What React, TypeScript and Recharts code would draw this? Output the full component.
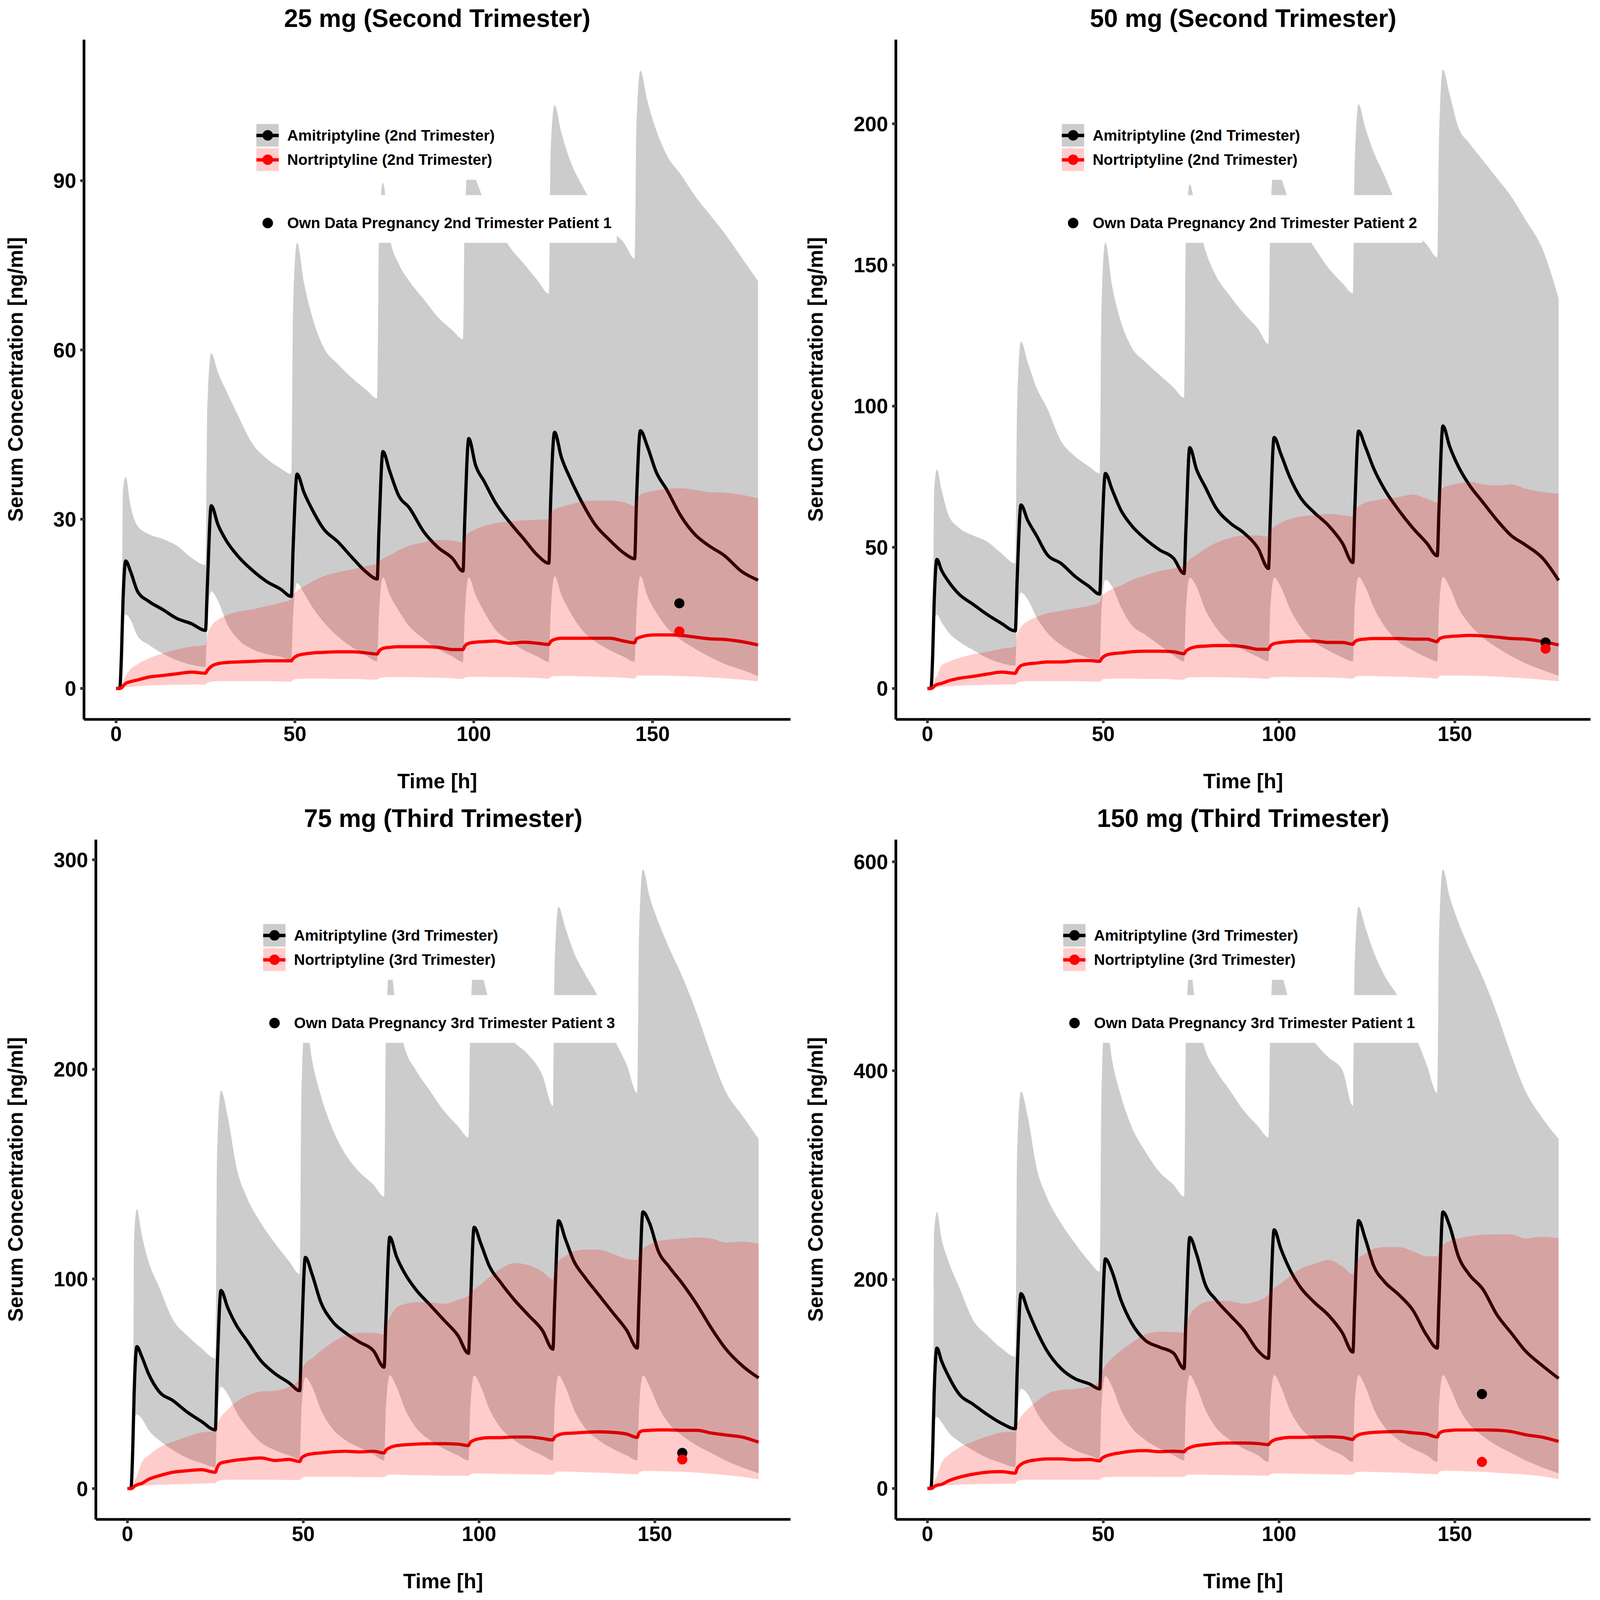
import React from "react";
import { ComposedChart, Area, Line, Scatter, XAxis, YAxis } from "recharts";

// sampling times [h], shared by every series
const T = [0, 1, 1.5, 1.9, 2.7, 4, 6, 9, 13, 17, 21, 25,
  25.5, 26.6, 28.5, 31, 34, 38, 42, 46, 49,
  49.5, 50.6, 52.5, 55, 58, 62, 66, 70, 73,
  73.5, 74.6, 76.5, 79, 82, 86, 90, 94, 97,
  97.5, 98.6, 100.5, 103, 106, 110, 114, 118, 121,
  121.5, 122.6, 124.5, 127, 130, 134, 138, 142, 145,
  145.5, 146.6, 148.5, 151, 154, 158, 162, 166, 170, 175, 179.5];

// 25 mg, second trimester
const amiMed25 = [0, 0, 6, 15, 22.6, 20.8, 17.2, 15.5, 14, 12.4, 11.5, 10.3,
  18, 32.4, 29, 26, 23.5, 21, 19, 17.6, 16.3,
  25, 38, 34.8, 31.5, 28.3, 26, 23.2, 20.6, 19.4,
  28, 42, 38.5, 34.2, 32, 27.8, 25, 23.1, 20.8,
  30, 44.3, 39.6, 36.6, 33, 29.5, 26.5, 23.5, 22.2,
  33, 45.4, 41, 37.2, 33.3, 29, 26.3, 24, 23,
  33, 45.7, 43, 38.4, 35.2, 30.5, 27.2, 25.2, 23.6, 20.7, 19.2];
const amiHigh25 = [0, 0, 0, 35, 37.5, 32.5, 28.8, 27.4, 26.5, 25.3, 23.2, 21.9,
  50, 59.4, 56, 52.5, 48.5, 43.5, 40.8, 39, 38,
  68, 79, 72, 65.5, 60.5, 57.5, 55, 52.9, 51.4,
  80, 89.6, 80, 75.3, 72.2, 69, 65.8, 63.5, 61.9,
  84, 93, 90.3, 86.3, 82.7, 78.3, 75.3, 72.2, 70,
  95, 103.4, 98.5, 93.5, 89.5, 85.2, 81.5, 79, 76.2,
  100, 109.5, 104.3, 99, 94.5, 91, 87.2, 84, 80.8, 76.3, 72.2];
const amiLow25 = [0, 0, 0, 12, 13.1, 12.2, 9.3, 7.8, 6.2, 5, 4.2, 3.8,
  12, 17.2, 15.5, 11.5, 8.8, 7, 6.1, 5.6, 5,
  13, 18.7, 16.9, 14.3, 11.8, 9.2, 7.3, 5.8, 4.8,
  13, 19.7, 16.6, 13.8, 11, 8.8, 7, 5.7, 4.7,
  13, 19.7, 16.6, 13.5, 10.5, 8.4, 6.8, 5.6, 4.7,
  13, 19.9, 16.6, 13.5, 10.6, 8.3, 6.8, 5.6, 4.7,
  13, 19.9, 16.5, 13.5, 10.8, 8.6, 7, 5.6, 4.4, 3.3, 2.2];
const norMed25 = [0, 0, 0.1, 0.4, 0.9, 1.2, 1.5, 2, 2.3, 2.6, 2.9, 2.7,
  3.2, 3.9, 4.4, 4.6, 4.7, 4.8, 4.9, 4.9, 4.9,
  5.3, 5.8, 6.1, 6.3, 6.4, 6.5, 6.5, 6.3, 6.1,
  6.6, 7.1, 7.3, 7.4, 7.4, 7.4, 7.3, 6.9, 6.9,
  7.5, 8, 8.2, 8.3, 8.4, 8, 8.2, 8, 7.8,
  8.3, 8.7, 8.9, 8.9, 8.9, 8.9, 8.9, 8.4, 8.1,
  8.8, 9.1, 9.4, 9.5, 9.5, 9.4, 9.1, 8.8, 8.7, 8.3, 7.7];
const norHigh25 = [0, 0, 0.3, 1.2, 2.2, 3.4, 4.3, 5.3, 6.2, 6.9, 7.4, 7.7,
  9.5, 11, 12.2, 13, 13.6, 14, 14.6, 15.2, 15.8,
  16.5, 17.3, 18.1, 19, 19.9, 20.6, 21.1, 21.7, 22.1,
  22.5, 23, 23.6, 24.5, 25.3, 25.9, 26.3, 26.2, 25.9,
  26.8, 27.6, 28.2, 28.8, 29.3, 29.6, 29.8, 29.9, 30,
  31, 31.7, 32.2, 32.6, 33.1, 33.3, 33.3, 33, 32.4,
  33.5, 34.3, 34.8, 35.1, 35.4, 35.5, 35.2, 34.8, 34.7, 34.3, 33.7];
const norLow25 = [0, 0, 0, 0.1, 0.2, 0.3, 0.4, 0.5, 0.6, 0.65, 0.7, 0.7,
  1, 1.2, 1.3, 1.3, 1.3, 1.3, 1.3, 1.25, 1.2,
  1.5, 1.7, 1.75, 1.75, 1.75, 1.7, 1.7, 1.6, 1.55,
  1.8, 1.95, 2, 2, 2, 1.95, 1.9, 1.8, 1.7,
  1.9, 2.05, 2.05, 2.05, 2, 2, 1.95, 1.85, 1.75,
  2, 2.2, 2.2, 2.2, 2.15, 2.1, 2, 1.9, 1.75,
  2.1, 2.3, 2.3, 2.3, 2.25, 2.2, 2.1, 1.95, 1.8, 1.55, 1.25];

// 50 mg, second trimester
const amiMed50 = [0, 0, 12, 30, 45.7, 41.9, 37.9, 33.4, 29.8, 26.2, 23.1, 20.4,
  38, 65, 59.6, 54.2, 47.5, 44.3, 39.7, 36.1, 33.4,
  50, 76.2, 70.5, 63.2, 57.8, 52.9, 49.1, 46.1, 40.7,
  56, 85.3, 77.7, 71.4, 64.1, 58.7, 55.1, 49.7, 42.5,
  60, 88.9, 83.1, 75, 67.8, 62.3, 57.8, 51.5, 44.6,
  62, 91.2, 85.8, 77.7, 70.5, 63.2, 56.9, 51.5, 47,
  64, 93, 85.8, 78.6, 72.3, 65.9, 59.6, 54.2, 50.9, 46.1, 38.3];
const amiHigh50 = [0, 0, 0, 70, 77.5, 70.5, 61.4, 56.9, 54.2, 52, 47.9, 44.3,
  100, 122.9, 115.6, 106.6, 99.4, 87.6, 82.2, 78.6, 76.2,
  135, 158, 142.7, 130, 121, 115.6, 111.1, 106.6, 103,
  160, 178.5, 168, 155.4, 146.3, 139.1, 132.8, 127.4, 122,
  165, 186, 181, 172, 164, 156.3, 149, 143.6, 140,
  185, 206.9, 198.7, 189.7, 181.6, 170, 162, 157.2, 152.7,
  195, 219.2, 210.5, 198.7, 193.3, 187, 180.7, 174.3, 166.2, 155.4, 138.2];
const amiLow50 = [0, 0, 0, 24, 26.2, 23.5, 19.9, 16.6, 13.6, 10.8, 9, 8.1,
  25, 34, 31.6, 25.3, 19.9, 15.4, 12.6, 10.8, 9.9,
  28, 38.5, 36.1, 28.9, 22.6, 19, 15.4, 11.7, 9.6,
  28, 39.2, 36.1, 28, 21.7, 16.3, 13.6, 11.2, 9.6,
  28, 39.3, 36, 28.5, 22, 16.5, 13.5, 11, 9.6,
  28, 39.5, 36, 28.5, 22, 16.5, 13.5, 11, 9.6,
  28, 39.5, 36, 28.5, 23, 18, 14.5, 11.5, 9, 6.5, 4.5];
const norMed50 = [0, 0, 0.2, 0.8, 1.4, 1.8, 2.7, 3.6, 4.3, 5.1, 5.8, 5.4,
  6.5, 8.1, 8.7, 9, 9.4, 9.4, 9.8, 9.9, 9.6,
  10.5, 11.7, 12.3, 12.6, 13, 13.2, 13.2, 13, 12.3,
  13.2, 14.1, 14.8, 15, 15.2, 15.2, 14.8, 13.9, 13.9,
  15, 15.9, 16.3, 16.6, 16.8, 16.8, 16.3, 16.3, 15.7,
  16.5, 17.2, 17.5, 17.7, 17.7, 17.7, 17.5, 17.5, 16.6,
  17.5, 18.1, 18.4, 18.6, 18.8, 18.6, 18.2, 17.7, 17.5, 16.6, 15.4];
const norHigh50 = [0, 0, 0.5, 2.4, 4.5, 8.1, 9.4, 10.8, 12.1, 13, 14.1, 14.8,
  19, 21.7, 23.8, 25.3, 26.6, 27.5, 28.4, 29.3, 30.7,
  32.5, 33.8, 35.2, 36.5, 38.3, 40.1, 41.6, 42.5, 43.4,
  44.3, 45.7, 47.3, 49.5, 51.5, 53.3, 54.2, 54.2, 53.8,
  56, 57.3, 58.7, 60, 60.9, 61.4, 61.8, 61.4, 60.9,
  63.2, 64.5, 65.9, 66.5, 67.2, 67.8, 68.7, 67.2, 65.9,
  69.6, 71, 71.9, 72.6, 73.2, 72.3, 71.9, 72.3, 70.8, 69.6, 69];
const norLow50 = [0, 0, 0, 0.2, 0.4, 0.6, 0.8, 1, 1.2, 1.3, 1.4, 1.4,
  2, 2.4, 2.6, 2.6, 2.6, 2.6, 2.6, 2.5, 2.4,
  3, 3.4, 3.5, 3.5, 3.5, 3.4, 3.4, 3.2, 3.1,
  3.6, 3.9, 4, 4, 4, 3.9, 3.8, 3.6, 3.4,
  3.8, 4.1, 4.1, 4.1, 4, 4, 3.9, 3.7, 3.5,
  4, 4.4, 4.4, 4.4, 4.3, 4.2, 4, 3.8, 3.5,
  4.2, 4.6, 4.6, 4.6, 4.5, 4.4, 4.2, 3.9, 3.6, 3.1, 2.5];

// 75 mg, third trimester
const amiMed75 = [0, 0, 18, 45, 67.7, 63.3, 54.8, 46.3, 41.9, 36.5, 32.1, 28,
  55, 94.5, 86.4, 77.9, 70.6, 60.9, 54.8, 50.4, 46.7,
  70, 110.3, 102.3, 88.9, 80.4, 74.3, 69.9, 65.7, 57.9,
  80, 120, 110.8, 102.3, 95, 87.7, 80.4, 73, 64.5,
  85, 124.7, 116.9, 105.9, 98.6, 90.1, 82.8, 75.5, 66.5,
  88, 127.8, 119.3, 108.4, 101, 92.5, 84, 75.5, 67,
  90, 132, 126.6, 113.2, 105.9, 97.4, 87.7, 76.7, 67, 58.4, 52.8];
const amiHigh75 = [0, 0, 0, 120, 133.4, 121.7, 108.4, 96.2, 80.4, 73, 67, 62.1,
  160, 189.9, 177.7, 153.4, 138.8, 126.6, 116.9, 108.4, 102.3,
  190, 225, 204.5, 187.5, 172.9, 159.5, 151, 144.9, 139.3,
  215, 250, 228, 209.4, 199.7, 189.9, 180.2, 172.9, 167.5,
  220, 252, 247, 232, 222, 213, 207, 197.2, 182.6,
  250, 277.6, 267.8, 255.7, 245.9, 234, 216, 202.1, 188.7,
  265, 295.4, 282.4, 270.3, 258.1, 243.5, 226.4, 207, 189.9, 177.7, 166.8];
const amiLow75 = [0, 0, 0, 32, 35.3, 33.6, 28, 23.1, 18.3, 14.6, 12.2, 10.2,
  35, 48.7, 45, 36.5, 29.2, 21.9, 18.3, 15.8, 14.1,
  38, 53.1, 48.7, 37.7, 29.2, 23.1, 19.5, 16.3, 13.4,
  38, 54, 48.7, 37.7, 29.2, 23.1, 19, 15.8, 13.4,
  38, 54, 48.7, 37.7, 29.2, 23.1, 19, 15.8, 13.4,
  38, 54, 48.7, 37.7, 29.2, 23.1, 19, 15.8, 13.4,
  38, 54, 48.7, 39, 31, 25, 20.5, 17, 13.5, 10, 7.3];
const norMed75 = [0, 0, 0.3, 1, 1.8, 2.4, 4.4, 6.1, 7.8, 8.5, 9, 7.8,
  10, 12.2, 12.9, 13.6, 14.1, 14.6, 13.4, 13.9, 12.9,
  14.5, 15.8, 16.6, 17, 17.5, 17.8, 17.5, 17.8, 17,
  18.3, 19.5, 20.5, 20.9, 21.2, 21.4, 21.4, 21.2, 20.5,
  22, 23.1, 23.9, 24.3, 24.3, 24.6, 24.6, 23.9, 23.2,
  24.5, 25.6, 26.3, 26.5, 26.8, 27.1, 26.8, 26, 24.4,
  26.6, 27.6, 27.8, 28, 28, 27.8, 27.8, 26.5, 25.6, 24.5, 22.1];
const norHigh75 = [0, 0, 0.5, 3, 6, 12.2, 15.8, 19.5, 22.4, 24.8, 26.8, 27.3,
  30.4, 34.1, 37.7, 41.4, 44.3, 46.3, 46.7, 48.7, 52.3,
  56, 59.7, 62.1, 65.7, 69.4, 73, 74.3, 74.3, 73.5,
  77.9, 81.6, 86.4, 88.1, 88.9, 88.9, 88.1, 90.1, 92,
  93.7, 95, 97.4, 101, 104.7, 107.6, 106.6, 103.5, 99.8,
  104.7, 108.4, 110.8, 113.2, 114, 114, 112, 109.6, 109.1,
  112, 114.4, 116.4, 118.1, 118.8, 119.3, 119.8, 119.3, 117.4, 117.8, 116.9];
const norLow75 = [0, 0, 0, 0.4, 0.8, 1.2, 1.5, 1.8, 2, 2.2, 2.4, 2.6,
  3.4, 4, 4.2, 4.2, 4.2, 4.2, 4.2, 4.1, 4.1,
  5, 5.6, 5.6, 5.6, 5.6, 5.6, 5.5, 5.5, 5.4,
  6, 6.6, 6.6, 6.5, 6.4, 6.3, 6.2, 6.1, 6.1,
  6.7, 7.2, 7.2, 7.1, 7, 6.9, 6.8, 6.7, 6.6,
  7.4, 8.1, 8.1, 8, 7.8, 7.6, 7.3, 7, 6.8,
  7.6, 8.4, 8.4, 8.3, 8.2, 8, 7.6, 7.1, 6.5, 5.6, 4.4];

// 150 mg, third trimester
const amiMed150 = [0, 0, 36, 90, 134.4, 122.1, 107.5, 90.4, 80.6, 70.8, 62.5, 57.2,
  110, 186.6, 171, 151.5, 131.9, 114.8, 105, 100.2, 95.3,
  140, 219.9, 207.6, 180.8, 158.8, 141.7, 135.3, 129.5, 114.8,
  160, 240.4, 224.8, 195.4, 180.8, 166.1, 151.5, 131.9, 124.6,
  170, 247.7, 229.6, 210.1, 193, 178.3, 166.1, 149, 130.5,
  175, 256.5, 239.4, 212.5, 197.9, 185.7, 171, 146.6, 134.4,
  180, 264.8, 251.6, 222.3, 205.2, 190.6, 166.1, 149, 131.9, 117.3, 105.4];
const amiHigh150 = [0, 0, 0, 245, 264.8, 239.4, 217.4, 193, 161.2, 146.6, 134.4, 126.1,
  320, 380.1, 356.7, 307.8, 278.5, 254.1, 234.5, 217.4, 207.6,
  380, 455, 410.4, 376.2, 346.9, 322.5, 302.9, 290.7, 279.5,
  430, 500, 455, 420.2, 400.6, 381.1, 361.6, 346.9, 336.2,
  440, 505, 495, 465, 445, 427.5, 412.9, 400.6, 366.4,
  500, 557, 537.5, 513, 491, 470, 440, 405.5, 378.7,
  530, 592.7, 566.8, 542.3, 517.9, 488.6, 454.4, 415.3, 381.1, 354.2, 334.7];
const amiLow150 = [0, 0, 0, 64, 68.4, 63.5, 53.7, 45, 36.6, 29.3, 24.4, 20.5,
  70, 95.3, 90.4, 73.3, 58.6, 45, 36.6, 31.8, 28.3,
  80, 107.5, 97.7, 75.7, 58.6, 46.4, 38.1, 31.8, 26.9,
  80, 108.5, 97.7, 75.7, 58.6, 46.4, 38.1, 31.8, 25.4,
  80, 108.5, 97.7, 75.7, 58.6, 46.4, 38.1, 31.8, 25.4,
  80, 108.5, 97.7, 75.7, 58.6, 46.4, 38.1, 31.8, 25.4,
  80, 108.5, 97.7, 78, 62, 50, 41, 34, 27, 20, 14.6];
const norMed150 = [0, 0, 0.5, 1.8, 3, 3.9, 7.3, 10.7, 13.7, 15.6, 16.1, 14.7,
  19, 23, 25.9, 27.4, 28.3, 28.3, 27.4, 27.8, 26.4,
  28.5, 30.8, 32.7, 34.2, 35.7, 36.2, 35.2, 35.7, 35.2,
  37, 39.1, 41, 42, 43, 43.5, 43.5, 43, 42,
  44, 46.4, 47.9, 48.9, 48.9, 49.3, 49.5, 48.9, 47,
  49, 51.3, 52.8, 53.7, 54.2, 54.6, 53.3, 52, 49.3,
  52.5, 54.7, 55.5, 56, 56, 56, 55.8, 54.5, 51.5, 49, 45];
const norHigh150 = [0, 0, 1, 6, 12, 24.4, 31.8, 39.1, 45, 49.8, 53.7, 54.7,
  61.1, 68.4, 75.7, 83.1, 90.4, 94.3, 95.3, 97.7, 102.6,
  109.9, 117.3, 124.6, 131.9, 139.2, 147.6, 150, 150, 149,
  156.3, 166.1, 173.5, 178.3, 179.8, 179.3, 176.9, 179.8, 185.7,
  188.1, 191.5, 196.4, 202.8, 210.1, 215, 218.9, 212.5, 205.2,
  212.5, 219.9, 224.8, 229.6, 231.1, 231.1, 227.2, 222.3, 222.3,
  227.2, 233.1, 237, 239.4, 241.4, 242.8, 243.3, 243.3, 239.4, 240.9, 239.4];
const norLow150 = [0, 0, 0, 0.8, 1.6, 2.4, 3, 3.6, 4, 4.3, 4.5, 4.7,
  6.8, 8, 8.4, 8.4, 8.4, 8.4, 8.4, 8.3, 8.3,
  10, 10.9, 11.1, 11.1, 11.1, 11.1, 11, 11, 11,
  12.4, 13.3, 13.3, 13.2, 13, 12.8, 12.6, 12.4, 12.3,
  13.6, 14.4, 14.4, 14.2, 14, 13.8, 13.6, 13.4, 13.3,
  15, 16, 16, 15.8, 15.5, 15.1, 14.6, 14.1, 13.6,
  15.8, 16.9, 16.9, 16.7, 16.4, 15.9, 15, 14.2, 13.3, 11.6, 8.8];

// measured patient samples: [time, amitriptyline, nortriptyline]
const obs25 = [157.5, 15.1, 10.1];
const obs50 = [175.8, 16.3, 14.1];
const obs75 = [157.8, 17.0, 13.9];
const obs150 = [157.7, 90.4, 25.4];

const X_TICKS = [0, 50, 100, 150];
const yTicks25 = [0, 30, 60, 90];
const yTicks50 = [0, 50, 100, 150, 200];
const yTicks75 = [0, 100, 200, 300];
const yTicks150 = [0, 200, 400, 600];

const PANEL = 2362;
const PLOT_TOP = 117;
const PLOT_RIGHT = 2334;
const PLOT_BOTTOM = 2124;
// the screenshot only covers 4096 css px of the 4724 px window
const FIT = 4096 / 4724;
const FONT = '"Liberation Sans", Arial, Helvetica, sans-serif';

const panels = [
  {
    title: "25 mg (Second Trimester)", amiMed: amiMed25, amiLow: amiLow25, amiHigh: amiHigh25,
    norMed: norMed25, norLow: norLow25, norHigh: norHigh25, obs: obs25,
    yDomain: [-5.48, 115.0], yTicks: yTicks25, axisWidth: 248, keyLeft: 757,
    ami: "Amitriptyline (2nd Trimester)", nor: "Nortriptyline (2nd Trimester)",
    own: "Own Data Pregnancy 2nd Trimester Patient 1",
  },
  {
    title: "50 mg (Second Trimester)", amiMed: amiMed50, amiLow: amiLow50, amiHigh: amiHigh50,
    norMed: norMed50, norLow: norLow50, norHigh: norHigh50, obs: obs50,
    yDomain: [-10.94, 229.8], yTicks: yTicks50, axisWidth: 283, keyLeft: 773,
    ami: "Amitriptyline (2nd Trimester)", nor: "Nortriptyline (2nd Trimester)",
    own: "Own Data Pregnancy 2nd Trimester Patient 2",
  },
  {
    title: "75 mg (Third Trimester)", amiMed: amiMed75, amiLow: amiLow75, amiHigh: amiHigh75,
    norMed: norMed75, norLow: norLow75, norHigh: norHigh75, obs: obs75,
    yDomain: [-14.7, 309.6], yTicks: yTicks75, axisWidth: 283, keyLeft: 777,
    ami: "Amitriptyline (3rd Trimester)", nor: "Nortriptyline (3rd Trimester)",
    own: "Own Data Pregnancy 3rd Trimester Patient 3",
  },
  {
    title: "150 mg (Third Trimester)", amiMed: amiMed150, amiLow: amiLow150, amiHigh: amiHigh150,
    norMed: norMed150, norLow: norLow150, norHigh: norHigh150, obs: obs150,
    yDomain: [-29.6, 621.2], yTicks: yTicks150, axisWidth: 283, keyLeft: 777,
    ami: "Amitriptyline (3rd Trimester)", nor: "Nortriptyline (3rd Trimester)",
    own: "Own Data Pregnancy 3rd Trimester Patient 1",
  },
];

const tickStyle = { fill: "#000", fontSize: 61, fontWeight: "bold" };
const axisTitleStyle = { fill: "#000", fontSize: 61, fontWeight: "bold", textAnchor: "middle" } as any;
const axisLine = { stroke: "#000", strokeWidth: 8 };
const tickLine = { stroke: "#333333", strokeWidth: 8 };

function Key({ fill, color }: { fill: string; color: string }) {
  return (
    <div style={{ position: "relative", width: 66, height: 67, background: fill, flex: "none" }}>
      <div style={{ position: "absolute", left: 0, right: 0, top: 29, height: 9.5, background: color }} />
      <div style={{ position: "absolute", left: 18, top: 18, width: 31, height: 31, borderRadius: "50%", background: color }} />
    </div>
  );
}

const legendText = { marginLeft: 25, fontSize: 45, fontWeight: "bold", lineHeight: 1, whiteSpace: "nowrap" } as any;

function Panel({ p }: { p: (typeof panels)[number] }) {
  const data = T.map((t, i) => ({
    t,
    amiMed: p.amiMed[i],
    amiBand: [p.amiLow[i], p.amiHigh[i]],
    norMed: p.norMed[i],
    norBand: [p.norLow[i], p.norHigh[i]],
  }));
  const amiPoint = [{ t: p.obs[0], v: p.obs[1] }];
  const norPoint = [{ t: p.obs[0], v: p.obs[2] }];
  const dot = (color: string) => (s: any) => <circle cx={s.cx} cy={s.cy} r={15} fill={color} />;

  return (
    <div style={{ position: "relative", width: PANEL, height: PANEL }}>
      <ComposedChart width={PANEL} height={PANEL} data={data}
        margin={{ top: PLOT_TOP, right: PANEL - PLOT_RIGHT, bottom: 0, left: 0 }}>
        <XAxis dataKey="t" type="number" domain={[-8.98, 188.58]} ticks={X_TICKS} allowDataOverflow
          height={PANEL - PLOT_BOTTOM} tick={tickStyle} tickSize={11} tickMargin={10}
          axisLine={axisLine} tickLine={tickLine}
          label={{ value: "Time [h]", position: "insideBottom", offset: 35, style: axisTitleStyle }} />
        <YAxis type="number" domain={p.yDomain} ticks={p.yTicks} allowDataOverflow width={p.axisWidth}
          tick={tickStyle} tickSize={11} tickMargin={12}
          axisLine={axisLine} tickLine={tickLine}
          label={{ value: "Serum Concentration [ng/ml]", angle: -90, position: "insideLeft", offset: 45, style: axisTitleStyle }} />
        {/* lines first, the translucent ribbons are laid over them */}
        <Line type="monotone" dataKey="amiMed" stroke="#000" strokeWidth={9.5} dot={false}
          isAnimationActive={false} activeDot={false} zIndex={100} />
        <Line type="monotone" dataKey="norMed" stroke="#FF0000" strokeWidth={9.5} dot={false}
          isAnimationActive={false} activeDot={false} zIndex={110} />
        <Area type="monotone" dataKey="amiBand" fill="#000000" fillOpacity={0.2} stroke="none"
          isAnimationActive={false} activeDot={false} zIndex={200} />
        <Area type="monotone" dataKey="norBand" fill="#FF0000" fillOpacity={0.2} stroke="none"
          isAnimationActive={false} activeDot={false} zIndex={210} />
        <Scatter data={amiPoint} dataKey="v" fill="#000" shape={dot("#000")} isAnimationActive={false} zIndex={600} />
        <Scatter data={norPoint} dataKey="v" fill="#FF0000" shape={dot("#FF0000")} isAnimationActive={false} zIndex={610} />
      </ComposedChart>

      <div style={{ position: "absolute", left: p.axisWidth, width: PLOT_RIGHT - p.axisWidth, top: 18,
        textAlign: "center", fontSize: 74, fontWeight: "bold", lineHeight: "74px", whiteSpace: "nowrap" }}>
        {p.title}
      </div>

      <div style={{ position: "absolute", left: p.keyLeft - 21, top: 345, background: "#fff",
        padding: "21px 15px 26px 21px" }}>
        <div style={{ display: "flex", alignItems: "center" }}>
          <Key fill="#CCCCCC" color="#000" />
          <span style={legendText}>{p.ami}</span>
        </div>
        <div style={{ display: "flex", alignItems: "center", marginTop: 5 }}>
          <Key fill="#FFCCCC" color="#FF0000" />
          <span style={legendText}>{p.nor}</span>
        </div>
      </div>

      <div style={{ position: "absolute", left: p.keyLeft - 21, top: 576, height: 141, boxSizing: "border-box",
        background: "#fff", padding: "49px 15px 26px 21px" }}>
        <div style={{ display: "flex", alignItems: "center", height: 66 }}>
          <div style={{ position: "relative", width: 66, height: 66, flex: "none" }}>
            <div style={{ position: "absolute", left: 18, top: 18, width: 31, height: 31, borderRadius: "50%", background: "#000" }} />
          </div>
          <span style={legendText}>{p.own}</span>
        </div>
      </div>
    </div>
  );
}

export default function App() {
  return (
    <div style={{ width: 2 * PANEL * FIT, height: 2 * PANEL * FIT, overflow: "hidden", background: "#fff" }}>
      <style>{`body { margin: 0; background: #fff; }`}</style>
      <div style={{ width: 2 * PANEL, height: 2 * PANEL, display: "flex", flexWrap: "wrap", background: "#fff",
        fontFamily: FONT, color: "#000", transform: `scale(${FIT})`, transformOrigin: "0 0" }}>
        {panels.map((p) => (
          <Panel key={p.title} p={p} />
        ))}
      </div>
    </div>
  );
}
